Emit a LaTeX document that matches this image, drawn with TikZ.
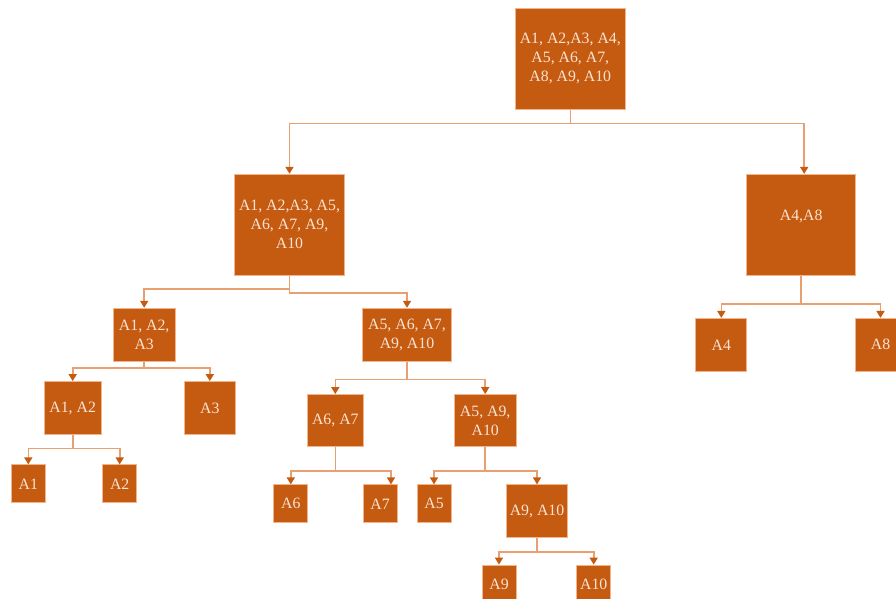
\documentclass[tikz,border=0pt]{standalone}
\usepackage{fontspec}
\setmainfont{Liberation Serif}
\usetikzlibrary{arrows.meta}
\definecolor{boxfill}{HTML}{C55A11}
\definecolor{boxedge}{HTML}{F2B48A}
\definecolor{wire}{HTML}{E8A070}
\definecolor{labeltext}{HTML}{FBE3D2}

\begin{document}
\begin{tikzpicture}[x=1pt,y=-1pt,
  box/.style={draw=boxedge, line width=0.8pt, fill=boxfill, text=labeltext,
    inner sep=0pt, align=center, font=\fontsize{15.8}{19}\selectfont},
  sz/.style n args={2}{minimum width=#1pt, minimum height=#2pt},
  conn/.style={draw=wire, line width=1.6pt,
    -{Triangle[length=7pt,width=8pt,color=boxfill]}}
]
\useasboundingbox (0,0) rectangle (896,598);

% tree nodes
\node[box,sz={110}{101}] (root) at (570.3,58.7) {A1, A2,A3, A4,\\A5, A6, A7,\\A8, A9, A10};
\node[box,sz={110}{101}] (l1) at (289.5,224.7) {A1, A2,A3, A5,\\A6, A7, A9,\\A10};
\node[box,sz={109}{101}] (r1) at (801.2,224.8) {A4,A8\\~};
\node[box,sz={62}{53}] (n123) at (144.2,334.7) {A1, A2,\\A3};
\node[box,sz={89}{53}] (n5to10) at (407,334.7) {A5, A6, A7,\\A9, A10};
\node[box,sz={51}{53}] (a4) at (721.3,344.8) {A4};
\node[box,sz={51}{53}] (a8) at (880.5,344.8) {A8};
\node[box,sz={57}{53}] (n12) at (72.7,408) {A1, A2};
\node[box,sz={51}{53}] (a3) at (209.8,408) {A3};
\node[box,sz={56}{52}] (n67) at (335.3,420.5) {A6, A7};
\node[box,sz={62}{52}] (n5910) at (485.2,420.5) {A5, A9,\\A10};
\node[box,sz={34}{38}] (a1) at (28.3,483.8) {A1};
\node[box,sz={34}{38}] (a2) at (119.7,483.8) {A2};
\node[box,sz={34}{38}] (a6) at (290.8,503.8) {A6};
\node[box,sz={34}{38}] (a7) at (380,503.8) {A7};
\node[box,sz={34}{38}] (a5) at (434,503.8) {A5};
\node[box,sz={61}{53}] (n910) at (537,511.3) {A9, A10};
\node[box,sz={34}{38}] (a9) at (499,584) {A9};
\node[box,sz={34}{38}] (a10) at (593.7,584) {A10};

% heights of the horizontal branch lines
\coordinate (y0) at (0,123.3);
\coordinate (y1a) at (0,289);
\coordinate (y1b) at (0,293);
\coordinate (y1r) at (0,304);
\coordinate (y2a) at (0,367.7);
\coordinate (y2b) at (0,379.3);
\coordinate (y3a) at (0,448.3);
\coordinate (y3b) at (0,470.7);
\coordinate (y4) at (0,551.7);

% connectors
\draw[conn] (root.south) -- (root.south |- y0) -| (l1.north);
\draw[conn] (root.south) -- (root.south |- y0) -| ([xshift=3pt]r1.north);
\draw[conn] (l1.south) -- (l1.south |- y1a) -| (n123.north);
\draw[conn] (l1.south) -- (l1.south |- y1b) -| (n5to10.north);
\draw[conn] (r1.south) -- (r1.south |- y1r) -| (a4.north);
\draw[conn] (r1.south) -- (r1.south |- y1r) -| (a8.north);
\draw[conn] (n123.south) -- (n123.south |- y2a) -| (n12.north);
\draw[conn] (n123.south) -- (n123.south |- y2a) -| (a3.north);
\draw[conn] (n5to10.south) -- (n5to10.south |- y2b) -| (n67.north);
\draw[conn] (n5to10.south) -- (n5to10.south |- y2b) -| (n5910.north);
\draw[conn] (n12.south) -- (n12.south |- y3a) -| (a1.north);
\draw[conn] (n12.south) -- (n12.south |- y3a) -| (a2.north);
\draw[conn] (n67.south) -- (n67.south |- y3b) -| (a6.north);
\draw[conn] (n67.south) -- (n67.south |- y3b) -| ([xshift=11pt]a7.north);
\draw[conn] (n5910.south) -- (n5910.south |- y3b) -| (a5.north);
\draw[conn] (n5910.south) -- (n5910.south |- y3b) -| (n910.north);
\draw[conn] (n910.south) -- (n910.south |- y4) -| (a9.north);
\draw[conn] (n910.south) -- (n910.south |- y4) -| (a10.north);
\end{tikzpicture}
\end{document}
